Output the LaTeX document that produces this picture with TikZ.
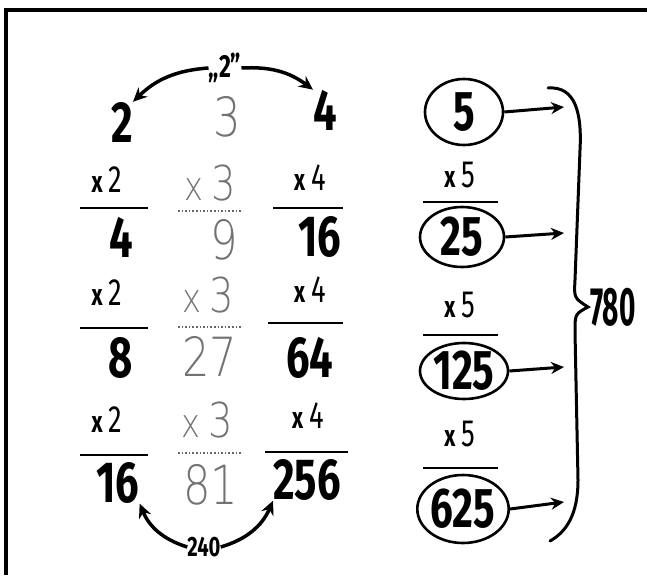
\documentclass[tikz,border=0pt]{standalone}
\usepackage{fontspec}
\setmainfont{Fira Sans}
\newfontfamily\handfont[FakeStretch=0.72]{Fira Sans}
\newfontfamily\narrowfont[FakeStretch=0.52]{Fira Sans}
\newfontfamily\dotfont[FakeStretch=0.8]{DejaVu Sans ExtraLight}
\usetikzlibrary{arrows.meta,shapes.geometric,positioning}
\newcommand{\xsm}{{\bfseries\fontsize{30}{30}\selectfont x}\,}
\tikzset{
  bignum/.style={font=\handfont\bfseries\fontsize{58}{58}\selectfont, inner sep=0pt},
  dotnum/.style={font=\dotfont\fontsize{54}{54}\selectfont, text=black!55, inner sep=0pt},
  mulby/.style={font=\handfont\fontsize{38}{38}\selectfont, inner sep=0pt},
  dotmul/.style={font=\dotfont\fontsize{48}{48}\selectfont, text=black!55, inner sep=0pt},
  ring/.style={ellipse, draw, line width=2.6pt, inner sep=0pt,
    font=\handfont\bfseries\fontsize{56}{56}\selectfont},
  bar/.style={line width=2.6pt},
  dotbar/.style={line width=1.6pt, dotted, black!60},
  harrow/.style={line width=3.5pt, -{Stealth[length=14pt,width=13pt]}},
  rarrow/.style={line width=3pt, -{Stealth[length=13pt,width=12pt]}}
}
\begin{document}
\begin{tikzpicture}[x=1pt,y=-1pt]
  \useasboundingbox (0,0) rectangle (647,575);
  % Frame
  \draw[line width=4pt] (6,575) -- (6,10) -- (647,10);
  % Powers of two
  \node[bignum] (a0) at (122,122) {2};
  \foreach \i/\val/\ym/\yb/\xr/\yr in {1/4/180/208/121/237, 2/8/293/328/121/358, 3/16/420/455/118/483} {
    \node[mulby] (ma\i) at (107,\ym) {\xsm 2};
    \draw[bar] (80,\yb) -- (148,\yb);
    \node[bignum] (a\i) at (\xr,\yr) {\val};
  }
  % Powers of three, dotted
  \node[dotnum] (b0) at (227,117) {3};
  \foreach \i/\val/\xm/\ym/\yb/\xr/\yr in {1/9/210/183/211/224/240, 2/27/208/295/327/210/356, 3/81/207/420/453/211/485} {
    \node[dotmul] (mb\i) at (\xm,\ym) {{\fontsize{40}{40}\selectfont x}\,3};
    \draw[dotbar] (178,\yb) -- (242,\yb);
    \node[dotnum] (b\i) at (\xr,\yr) {\val};
  }
  % Powers of four
  \node[bignum] (c0) at (325,110) {4};
  \foreach \i/\val/\xm/\ym/\xa/\xb/\yb/\xr/\yr in {1/16/310/178/273/343/208/320/237, 2/64/310/290/268/343/323/310/358, 3/256/308/416/265/348/452/307/480} {
    \node[mulby] (mc\i) at (\xm,\ym) {\xsm 4};
    \draw[bar] (\xa,\yb) -- (\xb,\yb);
    \node[bignum] (c\i) at (\xr,\yr) {\val};
  }
  % Differences
  \node[mulby, font=\handfont\bfseries\fontsize{32}{32}\selectfont] (q2) at (225,68) {„2”};
  \draw[harrow] (q2.west) to[bend right=20] (a0.north east);
  \draw[harrow] (q2.east) to[bend left=20] (c0.north west);
  \node[mulby, font=\handfont\bfseries\fontsize{28}{28}\selectfont] (d240) at (204,547) {240};
  \draw[harrow] (d240.west) to[bend left=25] (a3.south east);
  \draw[harrow] (d240.east) to[bend right=25] (c3.south west);
  % Powers of five
  \node[ring, minimum width=78pt, minimum height=66pt] (r0) at (464,112) {5};
  \node[ring, minimum width=84pt, minimum height=60pt] (r1) at (462,237) {25};
  \node[ring, minimum width=88pt, minimum height=56pt] (r2) at (464,371) {125};
  \node[ring, minimum width=90pt, minimum height=68pt] (r3) at (463,509) {625};
  \foreach \ym in {175, 305, 434}
    \node[mulby] at (460,\ym) {\xsm 5};
  \foreach \yb in {202, 335, 468}
    \draw[bar] (423,\yb) -- (498,\yb);
  % Arrows into the brace
  \foreach \i/\yt in {0/107, 1/233, 2/367, 3/502} {
    \coordinate (t\i) at (564,\yt);
    \draw[rarrow] (r\i.east) -- (t\i);
  }
  % Brace and sum
  \coordinate (brtip) at (588,307);
  \draw[line width=3pt, line cap=round] (548,88) .. controls (575,86) and (582,112) .. (580,150)
    -- (575,280) .. controls (574,298) .. (brtip)
    .. controls (575,314) .. (575,332) -- (578,480)
    .. controls (578,515) and (566,532) .. (550,541);
  \node[inner sep=0pt, font=\narrowfont\bfseries\fontsize{54}{54}\selectfont, anchor=west] (sum) at ([xshift=2pt]brtip) {780};
\end{tikzpicture}
\end{document}
